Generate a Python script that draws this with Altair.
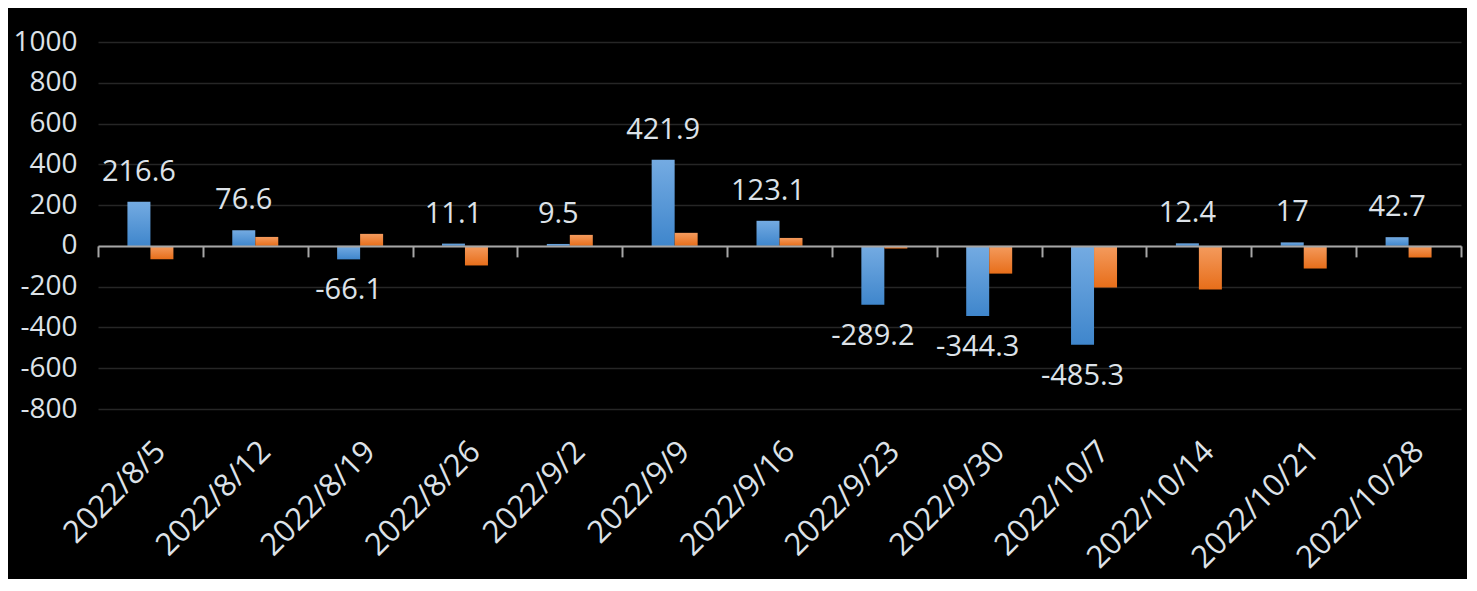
import altair as alt
import pandas as pd

dates = ["2022/8/5", "2022/8/12", "2022/8/19", "2022/8/26", "2022/9/2", "2022/9/9",
         "2022/9/16", "2022/9/23", "2022/9/30", "2022/10/7", "2022/10/14", "2022/10/21",
         "2022/10/28"]
blue = [216.6, 76.6, -66.1, 11.1, 9.5, 421.9, 123.1, -289.2, -344.3, -485.3, 12.4, 17, 42.7]
orange = [-65, 44, 59, -96, 54, 64, 39, -13, -136, -204, -214, -111, -57]
y_ticks = [-800, -600, -400, -200, 0, 200, 400, 600, 800, 1000]
series = ["A", "B"]
offset_domain = ["_gap_l"] + series + ["_gap_r"]

W, H = 1363, 367
y_min, y_max = y_ticks[0], y_ticks[-1]
zero_offset = -(H - H * (y_max - 0) / (y_max - y_min))

rows = []
for d, b, o in zip(dates, blue, orange):
    rows.append({"date": d, "series": "A", "value": b, "label": f"{b:g}"})
    rows.append({"date": d, "series": "B", "value": o, "label": f"{o:g}"})
df = pd.DataFrame(rows)

FONT = "Open Sans"
TXT = "#dde2e8"
AX = "#a6a6a6"

blue_grad = alt.Gradient(gradient="linear", x1=0, y1=0, x2=0, y2=1,
                         stops=[alt.GradientStop(color="#74abe2", offset=0),
                                alt.GradientStop(color="#3f86cc", offset=1)])
orange_grad = alt.Gradient(gradient="linear", x1=0, y1=0, x2=0, y2=1,
                           stops=[alt.GradientStop(color="#f49b5e", offset=0),
                                  alt.GradientStop(color="#e76e1a", offset=1)])

xscale = alt.Scale(domain=dates, paddingInner=0, paddingOuter=0)
xo = alt.XOffset("series:N", scale=alt.Scale(domain=offset_domain, paddingInner=0, paddingOuter=0.28))
yscale = alt.Scale(domain=[y_min, y_max], nice=False, zero=False)

y_axis = alt.Axis(values=y_ticks, labelExpr="'' + datum.value", grid=True, gridColor="#262626",
                  gridWidth=1.5, domain=False, ticks=False, labelPadding=21, labelFontSize=28,
                  labelColor=TXT, labelFont=FONT, title=None)

x_axis_labels = alt.Axis(orient="bottom", labelAngle=-45, labelAlign="right",
                         labelBaseline="top", labelPadding=27, ticks=False, domain=False,
                         grid=False, title=None, labelFontSize=31, labelColor=TXT,
                         labelFont=FONT, labelOverlap=False)

x_axis_zero = alt.Axis(orient="bottom", offset=zero_offset, labels=False, ticks=True,
                       tickBand="extent", tickSize=11, tickColor=AX, tickWidth=2,
                       domain=True, domainColor=AX, domainWidth=2, zindex=1,
                       grid=False, title=None)

base = alt.Chart(df)

bars_a = base.transform_filter(alt.datum.series == "A").mark_bar(color=blue_grad).encode(
    x=alt.X("date:N", scale=xscale, axis=x_axis_labels),
    xOffset=xo,
    y=alt.Y("value:Q", scale=yscale, axis=y_axis),
)
bars_b = base.transform_filter(alt.datum.series == "B").mark_bar(color=orange_grad).encode(
    x=alt.X("date:N", scale=xscale, axis=x_axis_zero),
    xOffset=xo,
    y=alt.Y("value:Q", scale=yscale),
)

lab_pos = base.transform_filter((alt.datum.series == "A") & (alt.datum.value >= 0)).mark_text(
    baseline="bottom", dy=-15, fontSize=29, font=FONT, color=TXT
).encode(
    x=alt.X("date:N", scale=xscale, axis=None),
    xOffset=xo,
    y=alt.Y("value:Q", scale=yscale),
    text="label:N",
)
lab_neg = base.transform_filter((alt.datum.series == "A") & (alt.datum.value < 0)).mark_text(
    baseline="top", dy=17, fontSize=29, font=FONT, color=TXT
).encode(
    x=alt.X("date:N", scale=xscale, axis=None),
    xOffset=xo,
    y=alt.Y("value:Q", scale=yscale),
    text="label:N",
)

chart = alt.layer(bars_a, bars_b, lab_pos, lab_neg).resolve_axis(x="independent").properties(
    width=W, height=H,
    autosize=alt.AutoSizeParams(type="none"),
    padding={"left": 90, "top": 34, "right": 6, "bottom": 170},
    background="black",
).configure_view(stroke=None)

chart.save("out.html", embed_options={"renderer": "svg", "actions": False})
